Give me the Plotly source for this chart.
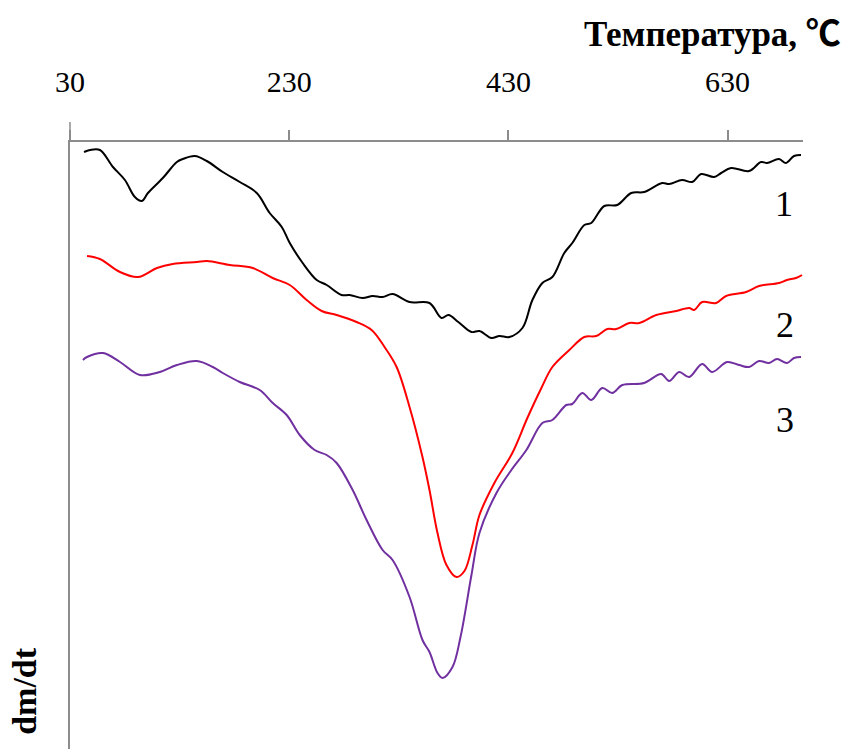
import plotly.graph_objects as go

# Temperature (°C) and dm/dt (arbitrary units) for each curve
t1 = [42.8, 48.2, 57.3, 69.2, 80.1, 89.2, 95.6, 101.1, 114.7, 127.5, 133.0, 143.9, 154.8, 169.4,
      184.9, 200.4, 212.2, 223.2, 230.5, 242.3, 255.1, 264.2, 277.8, 285.1, 297.0, 306.1, 315.2,
      324.3, 339.8, 358.0, 369.0, 375.3, 384.3, 396.3, 403.6, 414.5, 421.8, 430.9, 442.8, 451.9,
      461.0, 470.1, 481.0, 488.3, 499.3, 505.6, 517.5, 529.3, 542.1, 553.9, 570.3, 576.7, 588.5,
      597.7, 605.9, 617.7, 624.1, 633.2, 649.6, 660.5, 666.0, 676.9, 683.3, 690.6, 697.0]
v1 = [5.97, 5.99, 5.99, 5.82, 5.69, 5.52, 5.48, 5.56, 5.71, 5.87, 5.90, 5.93, 5.88, 5.77,
      5.67, 5.56, 5.36, 5.22, 5.06, 4.86, 4.69, 4.64, 4.54, 4.54, 4.51, 4.53, 4.52,
      4.55, 4.47, 4.46, 4.31, 4.34, 4.27, 4.17, 4.18, 4.11, 4.13, 4.12, 4.21, 4.49,
      4.66, 4.72, 4.96, 5.06, 5.24, 5.26, 5.43, 5.44, 5.56, 5.57, 5.66, 5.65, 5.69,
      5.67, 5.75, 5.72, 5.76, 5.81, 5.78, 5.87, 5.86, 5.90, 5.86, 5.93, 5.94]

t2 = [45.5, 57.3, 75.6, 92.0, 109.3, 123.8, 145.7, 154.8, 175.8, 196.7, 214.9, 230.5, 245.9,
      259.6, 273.3, 291.5, 305.2, 317.0, 328.0, 339.8, 351.6, 358.0, 365.3, 373.5, 382.6, 389.9,
      397.2, 403.6, 417.2, 433.6, 447.3, 460.1, 470.1, 485.6, 499.3, 510.2, 520.2, 528.4, 540.3,
      549.4, 564.9, 583.1, 594.9, 599.5, 606.8, 619.5, 628.6, 646.9, 658.7, 676.9, 684.2, 692.4,
      697.9]
v2 = [4.93, 4.90, 4.77, 4.72, 4.81, 4.85, 4.87, 4.88, 4.84, 4.81, 4.71, 4.64, 4.49,
      4.38, 4.34, 4.27, 4.19, 4.02, 3.82, 3.42, 2.92, 2.59, 2.16, 1.84, 1.72, 1.78,
      2.04, 2.34, 2.66, 2.96, 3.31, 3.61, 3.82, 3.99, 4.12, 4.13, 4.20, 4.20, 4.26,
      4.26, 4.34, 4.38, 4.41, 4.39, 4.47, 4.46, 4.53, 4.57, 4.63, 4.66, 4.69, 4.71,
      4.74]

t3 = [41.8, 45.5, 60.1, 75.6, 93.8, 112.0, 127.5, 145.7, 160.3, 169.4, 184.9, 203.1, 215.0,
      227.7, 239.6, 253.2, 264.2, 273.3, 287.9, 300.6, 315.2, 324.3, 339.8, 351.6, 358.0, 365.3,
      369.9, 379.0, 386.3, 396.3, 403.6, 419.1, 432.7, 446.4, 461.0, 470.1, 482.8, 488.3, 497.4,
      505.6, 515.7, 524.8, 533.9, 553.9, 569.4, 576.7, 585.8, 594.9, 606.8, 615.9, 629.5, 640.5,
      649.6, 658.7, 667.8, 675.1, 684.2, 690.6, 697.0]
v3 = [3.89, 3.92, 3.96, 3.87, 3.74, 3.77, 3.84, 3.88, 3.82, 3.76, 3.67, 3.59, 3.46,
      3.34, 3.14, 2.99, 2.94, 2.86, 2.59, 2.29, 1.99, 1.89, 1.52, 1.09, 0.97, 0.76,
      0.71, 0.82, 1.12, 1.74, 2.16, 2.56, 2.79, 2.99, 3.26, 3.29, 3.44, 3.45, 3.56,
      3.49, 3.61, 3.56, 3.64, 3.66, 3.75, 3.68, 3.77, 3.72, 3.85, 3.77, 3.87, 3.84,
      3.82, 3.88, 3.86, 3.90, 3.86, 3.91, 3.92]

curve_labels = ["1", "2", "3"]
label_t = [681.5, 682.0, 682.0]
label_v = [5.45, 4.24, 3.29]
colors = ["#000000", "#ff0000", "#7030a0"]

x_ticks = [30, 230, 430, 630]
x_title_word = "Температура,"
x_title_unit = "℃"
y_title = "dm/dt"

SERIF = "Times New Roman, Liberation Serif, DejaVu Serif, serif"

fig = go.Figure()
for t, v, c in zip([t1, t2, t3], [v1, v2, v3], colors):
    fig.add_trace(go.Scatter(x=t, y=v, mode="lines",
                             line=dict(color=c, width=2, shape="spline", smoothing=1.0),
                             showlegend=False, hoverinfo="skip"))

for lab, lt, lv in zip(curve_labels, label_t, label_v):
    fig.add_annotation(x=lt, y=lv, text=lab, showarrow=False, xref="x", yref="y",
                       font=dict(family=SERIF, size=36, color="#000000"))

title_text = (x_title_word + " <span style='font-family:Noto Sans CJK SC'>"
              + x_title_unit + "</span>")
fig.add_annotation(x=1.054, y=1.1845, xref="paper", yref="paper", text=title_text,
                   showarrow=False, xanchor="right", yanchor="middle",
                   font=dict(family=SERIF, size=35, color="#000000", weight="bold"))
fig.add_annotation(x=-0.0614, y=0.02, xref="paper", yref="paper", text=y_title,
                   showarrow=False, textangle=-90, xanchor="center", yanchor="bottom",
                   font=dict(family=SERIF, size=34, color="#000000", weight="bold"))

# extended tick at origin (axis line reaches above the top axis)
fig.add_shape(type="line", xref="paper", yref="paper", x0=0, x1=0, y0=1, y1=1 + 20 / 607,
              line=dict(color="#8c8c8c", width=1.5))

# page body adds an 8px offset; size the figure so the plot area lands at x 70-803, y 142-749
fig.update_layout(
    width=843, height=741,
    margin=dict(l=62, r=48, t=134, b=0),
    paper_bgcolor="white", plot_bgcolor="white",
    xaxis=dict(side="top", range=[30, 698.8], tickvals=x_ticks, ticktext=[str(v) for v in x_ticks],
               showgrid=False, zeroline=False, showline=True, linecolor="#8c8c8c", linewidth=1.5,
               ticks="outside", ticklen=10, tickwidth=1.5, tickcolor="#8c8c8c",
               ticklabelstandoff=26,
               tickfont=dict(family=SERIF, size=30, color="#000000")),
    yaxis=dict(range=[0, 6.07], showgrid=False, zeroline=False, showline=True,
               linecolor="#8c8c8c", linewidth=1.5, showticklabels=False, ticks=""),
)

fig.write_html("out.html")
